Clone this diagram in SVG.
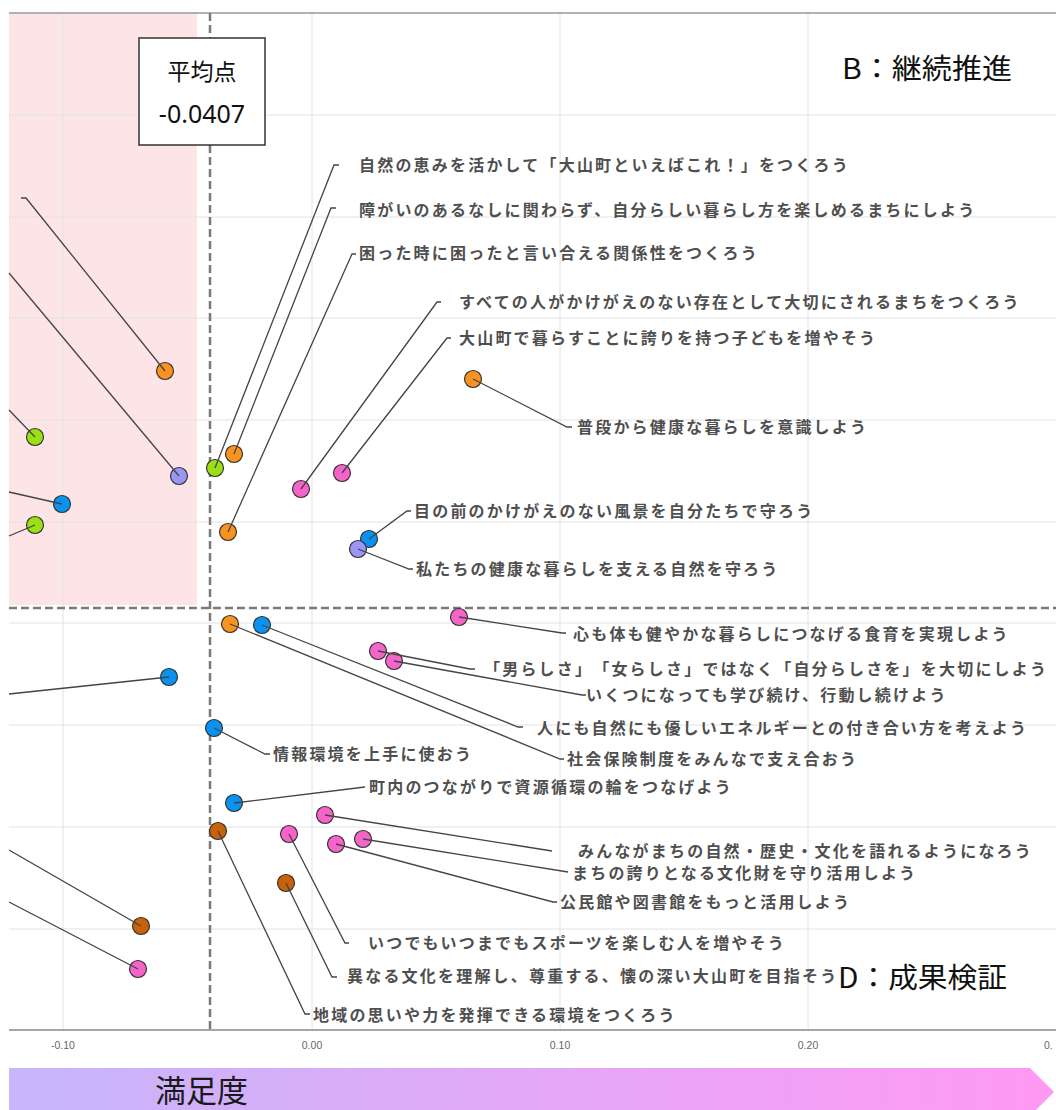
<svg xmlns="http://www.w3.org/2000/svg" width="1056" height="1110" viewBox="0 0 1056 1110">
<style>
.grid{stroke:#e2e2e2;stroke-width:1;fill:none}
.dash{stroke:#7a7a7a;stroke-width:2.5;stroke-dasharray:8 4;fill:none}
.lbl{font-family:"Noto Sans CJK JP","Noto Sans",sans-serif;font-size:16px;font-weight:700;fill:#4f4f4f;letter-spacing:2.2px;text-spacing-trim:space-all;font-feature-settings:"halt" 0,"palt" 0}
.tick{font-family:"Liberation Sans","Noto Sans",sans-serif;font-size:10.5px;fill:#666}
.head{font-family:"Noto Sans CJK JP","Noto Sans",sans-serif;font-size:28px;fill:#111}
.pt{stroke:#333;stroke-width:1.2}
.or{fill:#f7931e}.gr{fill:#9be015}.lv{fill:#9b96f5}.bl{fill:#0a92f0}.pk{fill:#f564c8}.br{fill:#c8620a}
.con{stroke:#444;stroke-width:1.3;fill:none}
</style>
<defs>
<linearGradient id="arrowGrad" x1="0" y1="0" x2="1" y2="0">
<stop offset="0" stop-color="#c6b6fa"/>
<stop offset="1" stop-color="#ff99f3"/>
</linearGradient>
</defs>
<rect width="1056" height="1110" fill="#fff"/>
<g id="plot-background">
<rect x="9" y="13" width="188" height="592" fill="#fde4e6"/>
<g class="grid">
<line x1="63" y1="13" x2="63" y2="1030"/>
<line x1="312" y1="13" x2="312" y2="1030"/>
<line x1="560" y1="13" x2="560" y2="1030"/>
<line x1="808" y1="13" x2="808" y2="1030"/>
<line x1="9" y1="115" x2="1056" y2="115"/>
<line x1="9" y1="217" x2="1056" y2="217"/>
<line x1="9" y1="318" x2="1056" y2="318"/>
<line x1="9" y1="420" x2="1056" y2="420"/>
<line x1="9" y1="522" x2="1056" y2="522"/>
<line x1="9" y1="623" x2="1056" y2="623"/>
<line x1="9" y1="725" x2="1056" y2="725"/>
<line x1="9" y1="827" x2="1056" y2="827"/>
<line x1="9" y1="929" x2="1056" y2="929"/>
</g>
<line x1="9" y1="13" x2="1056" y2="13" stroke="#999" stroke-width="1.5"/>
<line x1="9" y1="1030" x2="1056" y2="1030" stroke="#888" stroke-width="1.5"/>
<line class="dash" x1="210" y1="13" x2="210" y2="1030"/>
<line class="dash" x1="9" y1="608" x2="1056" y2="608"/>
<text class="tick" x="63" y="1049" text-anchor="middle">-0.10</text>
<text class="tick" x="312" y="1049" text-anchor="middle">0.00</text>
<text class="tick" x="560" y="1049" text-anchor="middle">0.10</text>
<text class="tick" x="808" y="1049" text-anchor="middle">0.20</text>
<text class="tick" x="1044" y="1049">0.</text>
</g>
<g id="average-box">
<rect x="139" y="38" width="126" height="107" fill="#fff" stroke="#333" stroke-width="1.5"/>
<text x="202" y="80" text-anchor="middle" font-family="Noto Sans CJK JP, Noto Sans, sans-serif" font-size="23" fill="#111">平均点</text>
<text x="202" y="123" text-anchor="middle" font-family="Noto Sans, Liberation Sans, sans-serif" font-size="25" fill="#111">-0.0407</text>
</g>
<g id="quadrant-B"><text class="head" x="842" y="79" textLength="170" lengthAdjust="spacingAndGlyphs">B：継続推進</text></g>
<g id="quadrant-D"><text class="head" x="838" y="988" textLength="169" lengthAdjust="spacingAndGlyphs">D：成果検証</text></g>
<g id="axis-arrow">
<polygon points="9,1068 1030,1068 1054,1092 1030,1116 9,1116" fill="url(#arrowGrad)"/>
<text x="155" y="1102" font-family="Noto Sans CJK JP, Noto Sans, sans-serif" font-size="31" fill="#1a1a1a">満足度</text>
</g>
<g id="nodes">
<g id="n1"><circle class="pt or" cx="165" cy="371" r="8.5"/></g>
<g id="n2"><circle class="pt lv" cx="179" cy="476" r="8.5"/></g>
<g id="n3"><circle class="pt gr" cx="35" cy="437" r="8.5"/></g>
<g id="n4"><circle class="pt bl" cx="62" cy="504" r="8.5"/></g>
<g id="n5"><circle class="pt gr" cx="35" cy="525" r="8.5"/></g>
<g id="n6"><circle class="pt gr" cx="215" cy="468" r="8.5"/><text class="lbl" x="359" y="171">自然の恵みを活かして「大山町といえばこれ！」をつくろう</text></g>
<g id="n7"><circle class="pt or" cx="234" cy="454" r="8.5"/><text class="lbl" x="359" y="216">障がいのあるなしに関わらず、自分らしい暮らし方を楽しめるまちにしよう</text></g>
<g id="n8"><circle class="pt or" cx="228" cy="532" r="8.5"/><text class="lbl" x="359" y="259">困った時に困ったと言い合える関係性をつくろう</text></g>
<g id="n9"><circle class="pt pk" cx="301" cy="489" r="8.5"/><text class="lbl" x="459" y="308">すべての人がかけがえのない存在として大切にされるまちをつくろう</text></g>
<g id="n10"><circle class="pt pk" cx="342" cy="473" r="8.5"/><text class="lbl" x="459" y="344">大山町で暮らすことに誇りを持つ子どもを増やそう</text></g>
<g id="n11"><circle class="pt or" cx="473" cy="379" r="8.5"/><text class="lbl" x="577" y="433">普段から健康な暮らしを意識しよう</text></g>
<g id="n12"><circle class="pt bl" cx="369" cy="539" r="8.5"/><text class="lbl" x="414" y="517">目の前のかけがえのない風景を自分たちで守ろう</text></g>
<g id="n13"><circle class="pt lv" cx="358" cy="549" r="8.5"/><text class="lbl" x="416" y="575">私たちの健康な暮らしを支える自然を守ろう</text></g>
<g id="n14"><circle class="pt pk" cx="459" cy="617" r="8.5"/><text class="lbl" x="573" y="640">心も体も健やかな暮らしにつなげる食育を実現しよう</text></g>
<g id="n15"><circle class="pt pk" cx="378" cy="651" r="8.5"/><text class="lbl" x="484" y="675">「男らしさ」「女らしさ」ではなく「自分らしさを」を大切にしよう</text></g>
<g id="n16"><circle class="pt pk" cx="394" cy="661" r="8.5"/><text class="lbl" x="586" y="701">いくつになっても学び続け、行動し続けよう</text></g>
<g id="n17"><circle class="pt or" cx="230" cy="624" r="8.5"/><text class="lbl" x="567" y="765">社会保険制度をみんなで支え合おう</text></g>
<g id="n18"><circle class="pt bl" cx="262" cy="625" r="8.5"/><text class="lbl" x="537" y="734">人にも自然にも優しいエネルギーとの付き合い方を考えよう</text></g>
<g id="n19"><circle class="pt bl" cx="214" cy="728" r="8.5"/><text class="lbl" x="273" y="760">情報環境を上手に使おう</text></g>
<g id="n20"><circle class="pt bl" cx="234" cy="803" r="8.5"/><text class="lbl" x="369" y="793">町内のつながりで資源循環の輪をつなげよう</text></g>
<g id="n21"><circle class="pt pk" cx="325" cy="815" r="8.5"/><text class="lbl" x="578" y="857">みんながまちの自然・歴史・文化を語れるようになろう</text></g>
<g id="n22"><circle class="pt pk" cx="363" cy="839" r="8.5"/><text class="lbl" x="572" y="879">まちの誇りとなる文化財を守り活用しよう</text></g>
<g id="n23"><circle class="pt pk" cx="336" cy="844" r="8.5"/><text class="lbl" x="560" y="908">公民館や図書館をもっと活用しよう</text></g>
<g id="n24"><circle class="pt pk" cx="289" cy="834" r="8.5"/><text class="lbl" x="368" y="949">いつでもいつまでもスポーツを楽しむ人を増やそう</text></g>
<g id="n25"><circle class="pt br" cx="286" cy="883" r="8.5"/><text class="lbl" x="347" y="982">異なる文化を理解し、尊重する、懐の深い大山町を目指そう</text></g>
<g id="n26"><circle class="pt br" cx="218" cy="831" r="8.5"/><text class="lbl" x="313" y="1021">地域の思いや力を発揮できる環境をつくろう</text></g>
<g id="n27"><circle class="pt bl" cx="169" cy="677" r="8.5"/></g>
<g id="n28"><circle class="pt br" cx="141" cy="926" r="8.5"/></g>
<g id="n29"><circle class="pt pk" cx="138" cy="969" r="8.5"/></g>
</g>
<g id="connectors" class="con">
<polyline points="165,371 26,198 21,198"/>
<polyline points="179,476 9,273"/>
<polyline points="35,437 9,410"/>
<polyline points="62,504 9,492"/>
<polyline points="35,525 9,536"/>
<polyline points="215,468 334,165 339,165"/>
<polyline points="234,454 331,208 336,208"/>
<polyline points="228,532 352,254 356,254"/>
<polyline points="301,489 437,302 441,302"/>
<polyline points="342,473 447,338 451,338"/>
<polyline points="473,379 567,427 572,427"/>
<polyline points="369,539 407,511 411,511"/>
<polyline points="358,549 409,569 413,569"/>
<polyline points="459,617 562,633 566,633"/>
<polyline points="378,651 470,669 475,669"/>
<polyline points="394,661 582,695 586,695"/>
<polyline points="262,625 518,727 523,727"/>
<polyline points="214,728 265,754 270,754"/>
<polyline points="230,624 560,759 564,759"/>
<polyline points="234,803 365,787"/>
<polyline points="325,815 552,851"/>
<polyline points="363,839 568,872"/>
<polyline points="336,844 553,902 557,902"/>
<polyline points="289,834 345,943 349,943"/>
<polyline points="286,883 332,977 337,977"/>
<polyline points="218,831 305,1014 310,1014"/>
<polyline points="169,677 9,694"/>
<polyline points="141,926 9,850"/>
<polyline points="138,969 9,902"/>
</g>
</svg>
